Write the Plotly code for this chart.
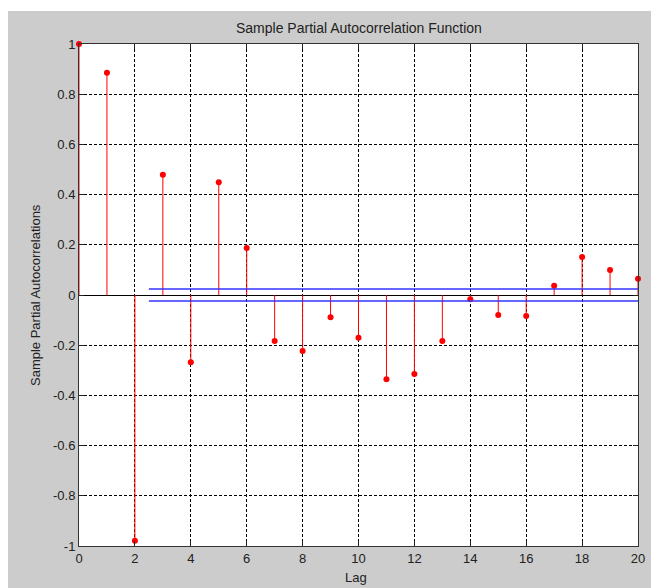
import plotly.graph_objects as go

lags = list(range(0, 21))
pacf = [1.0, 0.885, -0.979, 0.479, -0.268, 0.449, 0.187, -0.183, -0.223, -0.089,
        -0.170, -0.336, -0.315, -0.183, -0.017, -0.080, -0.084, 0.037, 0.151, 0.100, 0.065]
bound_x = [2.5, 20]
bound_val = 0.024
x_ticks = list(range(0, 21, 2))
y_ticks = [-1, -0.8, -0.6, -0.4, -0.2, 0, 0.2, 0.4, 0.6, 0.8, 1]
y_tick_text = ["-1", "-0.8", "-0.6", "-0.4", "-0.2", "0", "0.2", "0.4", "0.6", "0.8", "1"]

stem_x, stem_y = [], []
for lx, v in zip(lags, pacf):
    stem_x += [lx, lx, None]
    stem_y += [0, v, None]

fig = go.Figure()
fig.add_trace(go.Scatter(x=stem_x, y=stem_y, mode="lines",
                         line=dict(color="#ff0000", width=1), hoverinfo="skip",
                         cliponaxis=False))
fig.add_trace(go.Scatter(x=lags, y=pacf, mode="markers",
                         marker=dict(color="#ff0000", size=6), cliponaxis=False))
fig.add_trace(go.Scatter(x=bound_x, y=[bound_val, bound_val], mode="lines",
                         line=dict(color="#3333ff", width=1.5)))
fig.add_trace(go.Scatter(x=bound_x, y=[-bound_val, -bound_val], mode="lines",
                         line=dict(color="#3333ff", width=1.5)))

font = "Liberation Sans, Arial, sans-serif"
W, H = 651, 580
L, R, T, B = 71, 21, 36, 42
plot_h = H - T - B
fig.update_layout(
    width=W, height=H,
    margin=dict(l=L, r=R, t=T, b=B),
    paper_bgcolor="#cccccc",
    plot_bgcolor="#ffffff",
    showlegend=False,
    font=dict(family=font, size=13, color="#222222"),
    xaxis=dict(range=[0, 20], tickvals=x_ticks, ticks="inside", ticklen=5,
               tickcolor="#222222", showline=True, linecolor="#333333", linewidth=1,
               mirror="allticks", showgrid=True, gridcolor="#000000", gridwidth=1,
               griddash="3px,2px", zeroline=False, fixedrange=True),
    yaxis=dict(range=[-1, 1], tickvals=y_ticks, ticktext=y_tick_text, ticks="inside",
               ticklen=5, tickcolor="#222222", showline=True, linecolor="#333333",
               linewidth=1, mirror="allticks", showgrid=True, gridcolor="#000000",
               gridwidth=1, griddash="3px,2px", zeroline=True, zerolinecolor="#000000",
               zerolinewidth=1, fixedrange=True),
    shapes=[
        dict(type="rect", xref="paper", yref="paper", x0=-0.2, x1=1.1,
             y0=(plot_h + T - 3) / plot_h, y1=1.2, fillcolor="#ffffff", line=dict(width=0)),
    ],
    annotations=[
        dict(text="Sample Partial Autocorrelation Function", xref="paper", yref="paper",
             x=0.5, y=(546 - 28) / 502, xanchor="center", yanchor="middle",
             showarrow=False, font=dict(size=14)),
        dict(text="Lag", xref="paper", yref="paper", x=0.495, y=(546 - 577) / 502,
             xanchor="center", yanchor="middle", showarrow=False, font=dict(size=13)),
        dict(text="Sample Partial Autocorrelations", xref="paper", yref="paper",
             x=(35 - 79) / 559, y=0.5, xanchor="center", yanchor="middle",
             textangle=-90, showarrow=False, font=dict(size=13)),
    ],
)

fig.write_html("out.html")
